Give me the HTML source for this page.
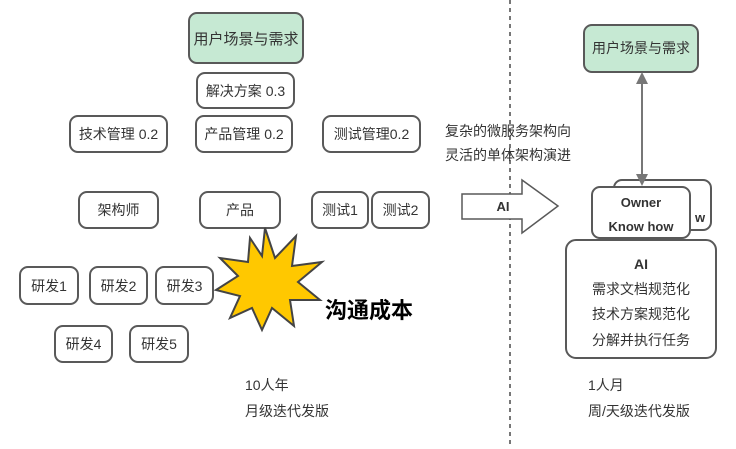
<!DOCTYPE html>
<html><head><meta charset="utf-8"><style>
body{margin:0;width:736px;height:444px;background:#fff;overflow:hidden;font-family:"Liberation Sans","Noto Sans CJK SC",sans-serif;}
</style></head><body>
<svg width="736" height="444" xmlns="http://www.w3.org/2000/svg" font-family="Liberation Sans, Noto Sans CJK SC, sans-serif" font-size="14" fill="#333">
<line x1="510" y1="0" x2="510" y2="444" stroke="#777" stroke-width="2" stroke-dasharray="4,4"/>
<g stroke="#595959" stroke-width="2" fill="#fff">
<rect x="189" y="13" width="114" height="50" rx="8" fill="#c6e9d3"/>
<rect x="197" y="73" width="97" height="35" rx="8"/>
<rect x="70" y="116" width="97" height="36" rx="8"/>
<rect x="196" y="116" width="96" height="36" rx="8"/>
<rect x="323" y="116" width="97" height="36" rx="8"/>
<rect x="79" y="192" width="79" height="36" rx="8"/>
<rect x="200" y="192" width="80" height="36" rx="8"/>
<rect x="312" y="192" width="56" height="36" rx="8"/>
<rect x="372" y="192" width="57" height="36" rx="8"/>
<rect x="20" y="267" width="58" height="37" rx="8"/>
<rect x="90" y="267" width="57" height="37" rx="8"/>
<rect x="156" y="267" width="57" height="37" rx="8"/>
<rect x="55" y="326" width="57" height="36" rx="8"/>
<rect x="130" y="326" width="58" height="36" rx="8"/>
<rect x="584" y="25" width="114" height="47" rx="8" fill="#c6e9d3"/>
<rect x="614" y="180" width="97" height="50" rx="8"/>
<rect x="592" y="187" width="98" height="51" rx="8"/>
<rect x="566" y="240" width="150" height="118" rx="10"/>
<path d="M462 194 H522 V180 L558 206 L522 233 V219 H462 Z" stroke-width="1.5" fill="#fff"/>
</g>
<path d="M265 228 L275 258 L296 236 L292 266 L322 262 L298 282 L320 300 L290 300 L294 326 L272 308 L262 330 L252 308 L230 318 L240 296 L216 290 L238 276 L220 258 L248 262 L250 238 L262 256 Z" fill="#ffc800" stroke="#444" stroke-width="2"/>
<line x1="642" y1="80" x2="642" y2="178" stroke="#777" stroke-width="2"/>
<path d="M636 84 L642 72 L648 84 Z M636 174 L642 186 L648 174 Z" fill="#777"/>
<g text-anchor="middle">
<text x="246" y="44" font-size="15">用户场景与需求</text>
<text x="245.5" y="96">解决方案 0.3</text>
<text x="118.5" y="139">技术管理 0.2</text>
<text x="244" y="139">产品管理 0.2</text>
<text x="371.5" y="139">测试管理0.2</text>
<text x="118.5" y="215">架构师</text>
<text x="240" y="215">产品</text>
<text x="340" y="215">测试1</text>
<text x="400.5" y="215">测试2</text>
<text x="49" y="291">研发1</text>
<text x="118.5" y="291">研发2</text>
<text x="184.5" y="291">研发3</text>
<text x="83.5" y="349">研发4</text>
<text x="159" y="349">研发5</text>
<text x="641" y="53">用户场景与需求</text>
<text x="641" y="207" font-weight="bold" font-size="13">Owner</text>
<text x="641" y="231" font-weight="bold" font-size="13">Know how</text>
<text x="700" y="222" font-weight="bold" font-size="13">w</text>
<text x="641" y="269" font-weight="bold">AI</text>
<text x="641" y="294">需求文档规范化</text>
<text x="641" y="319">技术方案规范化</text>
<text x="641" y="345">分解并执行任务</text>
<text x="503" y="211" font-weight="bold" font-size="13">AI</text>
</g>
<text x="325" y="318" font-size="22" font-weight="bold" fill="#000">沟通成本</text>
<text x="445" y="136">复杂的微服务架构向</text>
<text x="445" y="160">灵活的单体架构演进</text>
<text x="245" y="390">10人年</text>
<text x="245" y="416">月级迭代发版</text>
<text x="588" y="390">1人月</text>
<text x="588" y="416">周/天级迭代发版</text>
</svg>
</body></html>
